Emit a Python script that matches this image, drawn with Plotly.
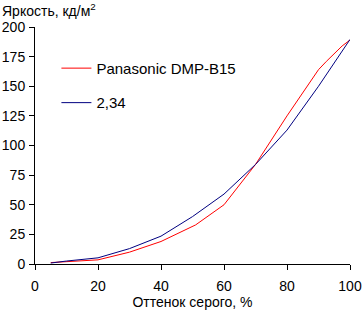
import plotly.graph_objects as go

red_x = [5, 10, 20, 30, 40, 51, 60, 70, 80, 90, 92.5, 97.5, 100]
red_y = [1.2, 2, 3.5, 10, 19, 33, 50, 84, 125, 164, 171, 184, 189]
blue_x = [5, 10, 20, 30, 40, 50, 60, 70, 80, 90, 100]
blue_y = [0.8, 2.5, 5.2, 13, 23.5, 40, 59, 84, 113, 150, 189.5]
red_name = "Panasonic DMP-B15"
blue_name = "2,34"
x_ticks = [0, 20, 40, 60, 80, 100]
y_ticks = [0, 25, 50, 75, 100, 125, 150, 175, 200]

FONT = "Liberation Sans, Arial, sans-serif"

fig = go.Figure()
fig.add_trace(go.Scatter(x=red_x, y=red_y, mode="lines", name=red_name,
                         line=dict(color="#FF0000", width=1), legendgroup="a"))
fig.add_trace(go.Scatter(x=blue_x, y=blue_y, mode="lines", name=blue_name,
                         line=dict(color="#000080", width=1), legendgroup="b"))

fig.update_layout(
    width=362, height=310,
    margin=dict(l=35, r=12, t=27, b=46),
    paper_bgcolor="white", plot_bgcolor="white",
    font=dict(family=FONT, size=14, color="black"),
    showlegend=True,
    legend=dict(x=0.068, y=0.895, xanchor="left", yanchor="top",
                bgcolor="rgba(0,0,0,0)", tracegroupgap=12,
                font=dict(size=15, family=FONT)),
    xaxis=dict(range=[0, 100], tickvals=x_ticks, ticks="outside", ticklen=5,
               tickcolor="black", showline=True, linecolor="black", linewidth=1,
               showgrid=False, zeroline=False, tickfont=dict(size=14),
               ticklabeloverflow="allow", ticklabelstandoff=4, automargin=False,
               title=dict(text="Оттенок серого, %", standoff=4, font=dict(size=14))),
    yaxis=dict(range=[0, 200], tickvals=y_ticks, ticks="outside", ticklen=5,
               tickcolor="black", showline=True, linecolor="black", linewidth=1,
               showgrid=False, zeroline=False, tickfont=dict(size=14),
               ticklabelstandoff=1, automargin=False),
    annotations=[dict(text="Яркость, кд/м<sup>2</sup>", xref="paper", yref="paper",
                      x=0, y=1, xshift=-35, yshift=28, xanchor="left", yanchor="top",
                      showarrow=False, font=dict(size=14))],
)

fig.write_html("out.html")
